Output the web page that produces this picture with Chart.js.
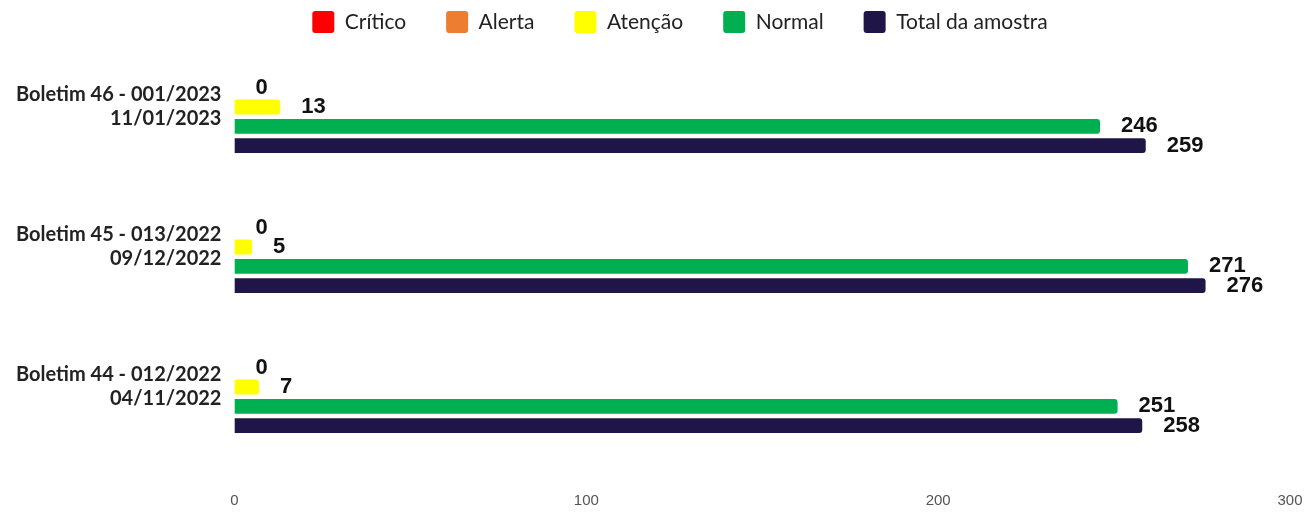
<!DOCTYPE html>
<html>
<head>
<meta charset="utf-8">
<script src="https://cdn.jsdelivr.net/npm/chart.js@4"></script>
<style>
    html, body { margin: 0; padding: 0; background: #fff; }
    #wrap { width: 1310px; height: 512px; }
</style>
</head>
<body>
<div id="wrap"><canvas id="boletinsChart"></canvas></div>
<script>
const boletins = [
    ["Boletim 46 - 001/2023", "11/01/2023"],
    ["Boletim 45 - 013/2022", "09/12/2022"],
    ["Boletim 44 - 012/2022", "04/11/2022"]
];
const critico = [0, 0, 0];
const alerta = [0, 0, 0];
const atencao = [13, 5, 7];
const normal = [246, 271, 251];
const totalAmostra = [259, 276, 258];
const xTicks = [0, 100, 200, 300];

// desenha os valores ao lado de cada barra
const rotulosBarras = {
    id: 'rotulosBarras',
    afterDatasetsDraw(chart) {
        const ctx = chart.ctx;
        ctx.save();
        ctx.font = 'bold 22px "Liberation Sans", Arial, sans-serif';
        ctx.fillStyle = '#111';
        ctx.textAlign = 'left';
        ctx.textBaseline = 'middle';
        chart.data.datasets.forEach((ds, i) => {
            if (ds.semRotulo) return;
            const meta = chart.getDatasetMeta(i);
            meta.data.forEach((bar, j) => {
                ctx.fillText(ds.data[j], bar.x + 21, bar.y);
            });
        });
        ctx.restore();
    }
};

// empurra a legenda um pouco para a direita
const ajusteLegenda = {
    id: 'ajusteLegenda',
    afterLayout(chart) {
        if (chart.legend) chart.legend.left += 47;
    }
};

const ctx = document.getElementById('boletinsChart').getContext('2d');
new Chart(ctx, {
    type: 'bar',
    data: {
        labels: boletins,
        datasets: [
            { label: 'Crítico', data: critico, backgroundColor: '#ff0000', semRotulo: true },
            { label: 'Alerta', data: alerta, backgroundColor: '#ed7d31' },
            { label: 'Atenção', data: atencao, backgroundColor: '#ffff00' },
            { label: 'Normal', data: normal, backgroundColor: '#00b050' },
            { label: 'Total da amostra', data: totalAmostra, backgroundColor: '#201547' }
        ]
    },
    options: {
        indexAxis: 'y',
        responsive: true,
        maintainAspectRatio: false,
        animation: false,
        categoryPercentage: 0.69,
        barPercentage: 0.77,
        borderRadius: 3,
        layout: { padding: { top: -31, left: 3, right: 0, bottom: -33 } },
        plugins: {
            legend: {
                position: 'top',
                maxHeight: 66,
                labels: {
                    boxWidth: 22,
                    boxHeight: 22,
                    padding: 40,
                    color: '#222',
                    useBorderRadius: true,
                    borderRadius: 3,
                    font: { family: 'Lato', size: 21 }
                }
            },
            tooltip: { enabled: false }
        },
        scales: {
            x: {
                min: 0,
                max: 300,
                afterBuildTicks: (axis) => { axis.ticks = xTicks.map(v => ({ value: v })); },
                afterFit: (axis) => { axis.paddingRight = 20; },
                grid: { display: false, drawTicks: false },
                border: { display: false },
                ticks: {
                    padding: 35,
                    maxRotation: 0,
                    color: '#555',
                    font: { family: '"Liberation Sans", Arial', size: 15 }
                }
            },
            y: {
                grid: { display: false, drawTicks: false },
                border: { display: false },
                ticks: {
                    padding: 13,
                    color: '#222',
                    font: { family: 'Lato', size: 20, weight: 'bold', lineHeight: 1.2 }
                }
            }
        }
    },
    plugins: [rotulosBarras, ajusteLegenda]
});
</script>
</body>
</html>
